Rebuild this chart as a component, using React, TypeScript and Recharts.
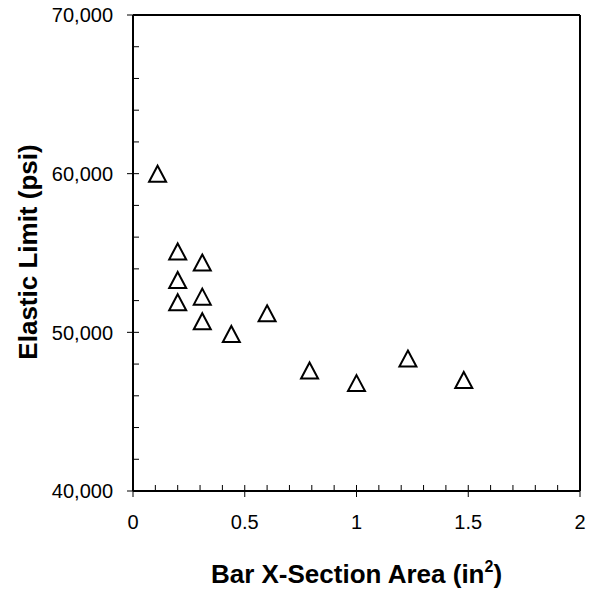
import React from 'react';
import { ScatterChart, Scatter, XAxis, YAxis } from 'recharts';

// bar cross-section area (in^2) vs elastic limit (psi)
const areas = [0.11, 0.2, 0.2, 0.2, 0.31, 0.31, 0.31, 0.44, 0.6, 0.79, 1.0, 1.23, 1.48];
const limits = [60000, 55100, 53300, 51900, 54400, 52250, 50700, 49900, 51200, 47600, 46800, 48350, 47000];

const xTicks = [0, 0.1, 0.2, 0.3, 0.4, 0.5, 0.6, 0.7, 0.8, 0.9, 1, 1.1, 1.2, 1.3, 1.4, 1.5, 1.6, 1.7, 1.8, 1.9, 2];
const xMajor = [0, 0.5, 1, 1.5, 2];
const yTicks = [40000, 42000, 44000, 46000, 48000, 50000, 52000, 54000, 56000, 58000, 60000, 62000, 64000, 66000, 68000, 70000];
const yMajor = [40000, 50000, 60000, 70000];

const data = areas.map((a, i) => ({ area: a, limit: limits[i] }));

const FONT = '"Liberation Sans", Arial, sans-serif';

const isMajor = (list: number[], v: number) => list.some(m => Math.abs(m - v) < 1e-6);

function XTick(props: any) {
  const { x, y, payload } = props;
  const v = payload.value;
  if (!isMajor(xMajor, v)) {
    return <line x1={x} x2={x} y1={y} y2={y - 6} stroke="#000" strokeWidth={1} />;
  }
  return (
    <g>
      <line x1={x} x2={x} y1={y - 6} y2={y + 6} stroke="#000" strokeWidth={1} />
      <text x={x} y={y + 38} textAnchor="middle" fontFamily={FONT} fontSize={20} fill="#000">
        {String(v)}
      </text>
    </g>
  );
}

function YTick(props: any) {
  const { x, y, payload } = props;
  const v = payload.value;
  if (!isMajor(yMajor, v)) {
    return <line x1={x} x2={x + 6} y1={y} y2={y} stroke="#000" strokeWidth={1} />;
  }
  return (
    <g>
      <line x1={x - 6} x2={x + 6} y1={y} y2={y} stroke="#000" strokeWidth={1} />
      <text x={x - 20} y={y} dy="0.36em" textAnchor="end" fontFamily={FONT} fontSize={20} fill="#000">
        {v.toLocaleString('en-US')}
      </text>
    </g>
  );
}

function Triangle(props: any) {
  const { cx, cy } = props;
  const w = 8.5;
  const h = 8;
  return (
    <polygon
      points={`${cx},${cy - h} ${cx + w},${cy + h} ${cx - w},${cy + h}`}
      fill="none"
      stroke="#000"
      strokeWidth={2}
    />
  );
}

function XTitle(props: any) {
  const vb = props.viewBox;
  return (
    <text x={vb.x + vb.width / 2} y={vb.y + 92} textAnchor="middle" fontFamily={FONT} fontWeight="bold" fontSize={26} fill="#000">
      Bar X-Section Area (in<tspan fontSize={16} dy={-11}>2</tspan><tspan dy={11}>)</tspan>
    </text>
  );
}

function YTitle(props: any) {
  const vb = props.viewBox;
  const cx = 37;
  const cy = vb.y + vb.height / 2 - 1;
  return (
    <text x={cx} y={cy} transform={`rotate(-90, ${cx}, ${cy})`} textAnchor="middle" fontFamily={FONT} fontWeight="bold" fontSize={26} fill="#000">
      Elastic Limit (psi)
    </text>
  );
}

export default function App() {
  return (
    <div style={{ position: 'absolute', left: 0, top: 0, width: 593, height: 590, background: '#fff' }}>
      <ScatterChart width={593} height={590} margin={{ top: 14, right: 12, left: 0, bottom: 0 }}>
        <XAxis
          xAxisId="top"
          orientation="top"
          type="number"
          dataKey="area"
          domain={[0, 2]}
          height={1}
          tick={false}
          tickLine={false}
          axisLine={{ stroke: '#000', strokeWidth: 2 }}
        />
        <YAxis
          yAxisId="right"
          orientation="right"
          type="number"
          dataKey="limit"
          domain={[40000, 70000]}
          width={1}
          tick={false}
          tickLine={false}
          axisLine={{ stroke: '#000', strokeWidth: 2 }}
        />
        <XAxis
          type="number"
          dataKey="area"
          domain={[0, 2]}
          ticks={xTicks}
          interval={0}
          height={99}
          tickSize={0}
          tickMargin={0}
          tickLine={false}
          tick={<XTick />}
          axisLine={{ stroke: '#000', strokeWidth: 2 }}
          label={<XTitle />}
        />
        <YAxis
          type="number"
          dataKey="limit"
          domain={[40000, 70000]}
          ticks={yTicks}
          interval={0}
          width={133}
          tickSize={0}
          tickMargin={0}
          tickLine={false}
          tick={<YTick />}
          axisLine={{ stroke: '#000', strokeWidth: 2 }}
          label={<YTitle />}
        />
        <Scatter data={data} shape={<Triangle />} isAnimationActive={false} />
      </ScatterChart>
    </div>
  );
}
